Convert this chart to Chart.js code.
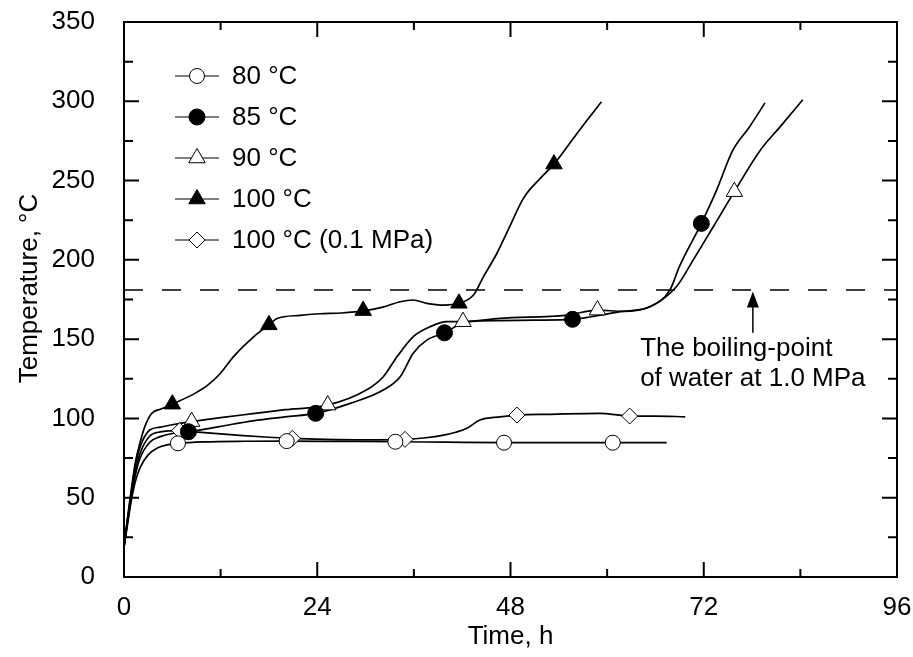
<!DOCTYPE html>
<html>
<head>
<meta charset="utf-8">
<style>
  html, body { margin: 0; padding: 0; background: #fff; }
  #wrap { width: 913px; height: 657px; }
</style>
<script src="https://cdn.jsdelivr.net/npm/chart.js"></script>
</head>
<body>
<div id="wrap"><canvas id="chart" width="913" height="657"></canvas></div>
<script>
// ===============================
// Data (time in h, temperature in °C)
// ===============================
const xTicks = [0, 24, 48, 72, 96];
const yTicks = [0, 50, 100, 150, 200, 250, 300, 350];

const names = ["80 °C", "85 °C", "90 °C", "100 °C", "100 °C (0.1 MPa)"];

// measured curves
const t80 = [0, 0.4, 0.9, 1.4, 2, 3, 4.2, 5.5, 6.7, 10, 15, 20.2, 27, 33.7, 40, 47.2, 54, 60.7, 67.4];
const T80 = [19, 32, 48, 60, 69, 77, 81.5, 83.5, 84.3, 85.2, 85.6, 85.7, 85.5, 85.3, 85, 84.7, 84.7, 84.7, 84.7];

const t85 = [0, 0.4, 0.9, 1.4, 2, 3.2, 4.5, 6, 8, 12, 16, 20, 23.8, 28.1, 32.2, 34.3, 35.9, 37.6, 39.8, 42.6,
  46.7, 50.8, 55.7, 58.5, 61.6, 65.3, 67.8, 69, 71.7, 73.6, 75.6, 77.7, 79.6];
const T85 = [19, 33, 50, 64, 75, 85, 88.5, 90.5, 91.6, 95, 98.5, 101, 103.2, 109.5, 117.9, 126.3, 141, 149.4, 154, 161,
  161.7, 162, 162.5, 164.5, 167.3, 170.4, 181, 196, 223, 244, 269, 284, 299];

const t90 = [0, 0.4, 0.9, 1.4, 2, 3.2, 4.5, 6, 8.4, 12, 16, 20, 25.3, 30.1, 32.2, 33.9, 35.9, 38, 40.1, 42.1,
  46.7, 55, 58.8, 62, 65.3, 68.6, 70.7, 73.2, 75.8, 79, 81.5, 84.3];
const T90 = [19, 35, 53, 70, 82, 92.7, 94.5, 96, 98, 100.5, 103, 105.5, 108.4, 117.9, 126.3, 138.9, 151.5, 157.8, 161, 161,
  163.1, 165.2, 168.3, 167.5, 170.4, 183, 200, 221, 243, 269, 284, 301];

const t100 = [0, 0.4, 0.9, 1.4, 1.95, 2.6, 3.4, 4.6, 6, 8.8, 10.4, 11.9, 13.6, 16.1, 18, 19, 21.9, 24.3, 27, 30,
  32, 34.3, 35.9, 37.6, 39.7, 41.6, 43.4, 44.6, 46.3, 47.9, 49.6, 51.7, 53.4, 55.8, 57.5, 59.3];
const T100 = [19, 36, 55, 72, 84, 95, 103, 106, 109, 115.8, 121, 128, 139, 151.5, 159, 163, 165, 166, 166.5, 168,
  170, 173.6, 174.7, 172.6, 171.5, 172.6, 177.8, 189, 204, 221, 238.8, 251.4, 260.4, 276.6, 288, 299.7];

const t01 = [0, 0.4, 0.9, 1.4, 2, 3.2, 4.5, 6.9, 10, 14, 17.5, 20.9, 25, 30, 34.9, 37.5, 39.7, 41.2, 42.6, 44.2,
  46.7, 48.8, 53, 59.1, 62.8, 66, 69.7];
const T01 = [19, 34, 51, 66, 78, 88.9, 91.5, 92.3, 91, 89.5, 88.3, 87.4, 86.8, 86.5, 86.8, 87.8, 89.5, 91.3, 93.8, 99,
  101, 102.1, 102.6, 103.2, 101.5, 101.5, 101];

// symbols on the curves
const mt80 = [6.7, 20.2, 33.7, 47.2, 60.7];
const mT80 = [84.3, 85.7, 85.3, 84.7, 84.7];
const mt85 = [8.0, 23.8, 39.8, 55.7, 71.7];
const mT85 = [91.6, 103.2, 154, 162.5, 223];
const mt90 = [8.4, 25.3, 42.1, 58.8, 75.8];
const mT90 = [98, 108.4, 161, 168.3, 243];
const mt100 = [6, 18, 29.7, 41.6, 53.4];
const mT100 = [109, 159, 168, 172.6, 260.4];
const mt01 = [6.9, 20.9, 34.9, 48.8, 62.8];
const mT01 = [92.3, 87.4, 86.8, 102.1, 101.5];

// boiling point of water at 1.0 MPa
const boilT = 181;
const arrowX = 78.1;
const arrowTip = 180;
const arrowTail = 154;
const noteLines = ["The boiling-point", "of water at 1.0 MPa"];
const noteX = 64.1;
const noteY = [139.3, 120.4];

// ===============================
// Helpers
// ===============================
const FONT = "'Liberation Sans', Arial, Helvetica, sans-serif";
const toXY = (ts, vs) => ts.map((t, i) => ({ x: t, y: vs[i] }));

const styles = [
  { shape: "circle", fill: "#fff", r: 7.5 },
  { shape: "circle", fill: "#000", r: 8 },
  { shape: "triangle", fill: "#fff", r: 9.5 },
  { shape: "triangle", fill: "#000", r: 9.5 },
  { shape: "rectRot", fill: "#fff", r: 8 }
];

const curves = [[t80, T80], [t85, T85], [t90, T90], [t100, T100], [t01, T01]];
const marks = [[mt80, mT80], [mt85, mT85], [mt90, mT90], [mt100, mT100], [mt01, mT01]];

const datasets = [];
curves.forEach(([ts, vs], i) => {
  datasets.push({
    label: names[i],
    data: toXY(ts, vs),
    showLine: true,
    borderColor: "#000",
    borderWidth: 1.7,
    pointRadius: 0,
    cubicInterpolationMode: "monotone",
    order: 2
  });
});
marks.forEach(([ts, vs], i) => {
  const st = styles[i];
  datasets.push({
    label: names[i] + " symbols",
    data: toXY(ts, vs),
    showLine: false,
    pointStyle: st.shape,
    pointRadius: st.r,
    pointBackgroundColor: st.fill,
    pointBorderColor: "#000",
    pointBorderWidth: 1,
    order: 1
  });
});
datasets.push({
  label: "boiling point",
  data: [{ x: xTicks[0], y: boilT }, { x: xTicks[xTicks.length - 1], y: boilT }],
  showLine: true,
  borderColor: "#000",
  borderWidth: 1.5,
  borderDash: [19, 19],
  pointRadius: 0,
  order: 3
});

const drawMarker = (ctx, shape, x, y, r, fill) => {
  ctx.beginPath();
  if (shape === "circle") {
    ctx.arc(x, y, r, 0, Math.PI * 2);
  } else if (shape === "triangle") {
    for (let k = 0; k < 3; k++) {
      const a = k * 2 * Math.PI / 3;
      const px = x + Math.sin(a) * r, py = y - Math.cos(a) * r;
      k ? ctx.lineTo(px, py) : ctx.moveTo(px, py);
    }
  } else {
    ctx.moveTo(x, y - r); ctx.lineTo(x + r, y); ctx.lineTo(x, y + r); ctx.lineTo(x - r, y);
  }
  ctx.closePath();
  ctx.fillStyle = fill;
  ctx.fill();
  ctx.lineWidth = 1;
  ctx.strokeStyle = "#000";
  ctx.stroke();
};

// ===============================
// Plugins: frame with inner ticks, legend, note, y title
// ===============================
const framePlugin = {
  id: "frame",
  afterDatasetsDraw(chart) {
    const { ctx, chartArea: a, scales: { x, y } } = chart;
    ctx.save();
    ctx.strokeStyle = "#000";
    ctx.lineWidth = 2;
    ctx.strokeRect(a.left, a.top, a.right - a.left, a.bottom - a.top);
    ctx.beginPath();
    for (let i = 0; i < xTicks.length; i++) {
      const px = x.getPixelForValue(xTicks[i]);
      ctx.moveTo(px, a.bottom); ctx.lineTo(px, a.bottom - 15);
      ctx.moveTo(px, a.top); ctx.lineTo(px, a.top + 15);
      if (i < xTicks.length - 1) {
        const pm = x.getPixelForValue((xTicks[i] + xTicks[i + 1]) / 2);
        ctx.moveTo(pm, a.bottom); ctx.lineTo(pm, a.bottom - 8);
        ctx.moveTo(pm, a.top); ctx.lineTo(pm, a.top + 8);
      }
    }
    for (let i = 0; i < yTicks.length; i++) {
      const py = y.getPixelForValue(yTicks[i]);
      ctx.moveTo(a.left, py); ctx.lineTo(a.left + 15, py);
      ctx.moveTo(a.right, py); ctx.lineTo(a.right - 15, py);
      if (i < yTicks.length - 1) {
        const pm = y.getPixelForValue((yTicks[i] + yTicks[i + 1]) / 2);
        ctx.moveTo(a.left, pm); ctx.lineTo(a.left + 9, pm);
        ctx.moveTo(a.right, pm); ctx.lineTo(a.right - 9, pm);
      }
    }
    ctx.stroke();

    // arrow to the dashed line
    const ax = x.getPixelForValue(arrowX);
    const tip = y.getPixelForValue(arrowTip);
    const tail = y.getPixelForValue(arrowTail);
    ctx.lineWidth = 1.5;
    ctx.beginPath();
    ctx.moveTo(ax, tail); ctx.lineTo(ax, tip + 10);
    ctx.stroke();
    ctx.beginPath();
    ctx.moveTo(ax, tip); ctx.lineTo(ax - 6, tip + 16); ctx.lineTo(ax + 6, tip + 16);
    ctx.closePath();
    ctx.fillStyle = "#000";
    ctx.fill();

    // note text
    ctx.font = "26px " + FONT;
    ctx.textAlign = "left";
    ctx.textBaseline = "alphabetic";
    noteLines.forEach((s, i) => {
      ctx.fillText(s, x.getPixelForValue(noteX), y.getPixelForValue(noteY[i]));
    });

    // legend
    const lx = a.left + 51, ly = a.top + 54, gap = 41;
    names.forEach((name, i) => {
      const yy = ly + i * gap;
      ctx.lineWidth = 1;
      ctx.beginPath();
      ctx.moveTo(lx, yy); ctx.lineTo(lx + 44, yy);
      ctx.stroke();
      drawMarker(ctx, styles[i].shape, lx + 22, yy, styles[i].r, styles[i].fill);
      ctx.fillStyle = "#000";
      ctx.textBaseline = "middle";
      ctx.fillText(name, lx + 57, yy + 1);
    });

    // y axis title (sits a little above the plot centre in the original)
    ctx.translate(30, (a.top + a.bottom) / 2 - 11);
    ctx.rotate(-Math.PI / 2);
    ctx.textAlign = "center";
    ctx.textBaseline = "middle";
    ctx.fillText("Temperature, °C", 0, 0);
    ctx.restore();
  }
};

// ===============================
// Chart
// ===============================
const tickFont = { family: FONT, size: 26 };
const noEdgePad = s => { s.paddingLeft = 0; s.paddingRight = 0; s.paddingTop = 0; s.paddingBottom = 0; };

new Chart(document.getElementById("chart").getContext("2d"), {
  type: "scatter",
  data: { datasets },
  options: {
    responsive: false,
    animation: false,
    devicePixelRatio: 1,
    layout: { padding: { top: 22, right: 16, left: 0, bottom: 0 } },
    plugins: { legend: { display: false }, tooltip: { enabled: false } },
    scales: {
      x: {
        type: "linear",
        min: xTicks[0],
        max: xTicks[xTicks.length - 1],
        afterBuildTicks: s => { s.ticks = xTicks.map(v => ({ value: v })); },
        afterFit: s => { s.height = 80; noEdgePad(s); },
        grid: { display: false },
        border: { display: false },
        ticks: { font: tickFont, color: "#000", padding: 7, maxRotation: 0 },
        title: { display: true, text: "Time, h", font: tickFont, color: "#000", padding: 5 }
      },
      y: {
        type: "linear",
        min: yTicks[0],
        max: yTicks[yTicks.length - 1],
        afterBuildTicks: s => { s.ticks = yTicks.map(v => ({ value: v })); },
        afterFit: s => { s.width = 124; noEdgePad(s); },
        grid: { display: false },
        border: { display: false },
        ticks: { font: tickFont, color: "#000", padding: 21 },
        title: { display: false }
      }
    }
  },
  plugins: [framePlugin]
});
</script>
</body>
</html>
